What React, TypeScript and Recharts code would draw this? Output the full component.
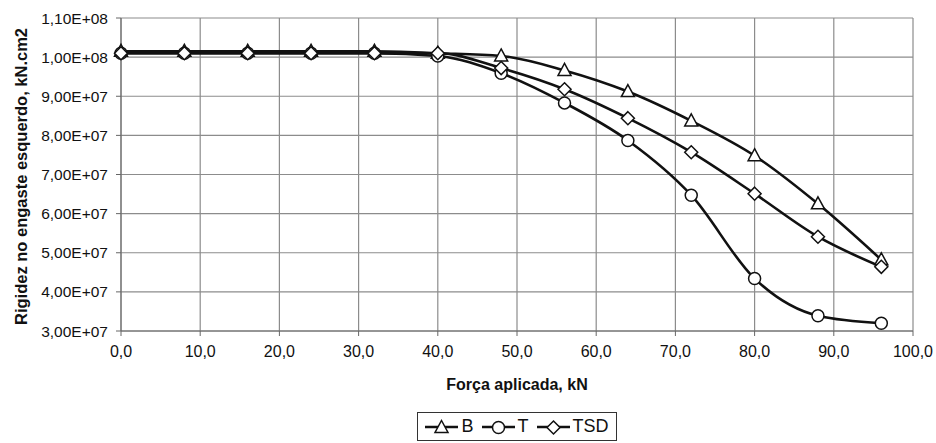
import { LineChart, Line, XAxis, YAxis, CartesianGrid, Legend, Label } from 'recharts';

const forca = [0, 8, 16, 24, 32, 40, 48, 56, 64, 72, 80, 88, 96];
const rigidezB = [1.015e8, 1.015e8, 1.015e8, 1.015e8, 1.015e8, 1.01e8, 1.003e8, 9.66e7, 9.12e7, 8.37e7, 7.48e7, 6.25e7, 4.82e7];
const rigidezT = [1.01e8, 1.01e8, 1.01e8, 1.01e8, 1.01e8, 1.003e8, 9.59e7, 8.83e7, 7.87e7, 6.47e7, 4.34e7, 3.39e7, 3.2e7];
const rigidezTSD = [1.01e8, 1.01e8, 1.01e8, 1.01e8, 1.01e8, 1.01e8, 9.72e7, 9.18e7, 8.44e7, 7.57e7, 6.51e7, 5.41e7, 4.64e7];

const xTicks = [0, 10, 20, 30, 40, 50, 60, 70, 80, 90, 100];
const yTicks = [3e7, 4e7, 5e7, 6e7, 7e7, 8e7, 9e7, 1e8, 1.1e8];

const data = forca.map((f, i) => ({ f, B: rigidezB[i], T: rigidezT[i], TSD: rigidezTSD[i] }));

const FONT = '"Liberation Sans", Arial, sans-serif';
const GRID = '#8c8c8c';
const INK = '#111';

// Excel-style "0,00E+00"
const sci = (v: number) => {
  const exp = Math.floor(Math.log10(v) + 1e-9);
  const m = v / Math.pow(10, exp);
  return `${m.toFixed(2).replace('.', ',')}E+${String(exp).padStart(2, '0')}`;
};
const dec = (v: number) => v.toFixed(1).replace('.', ',');

type Shape = 'tri' | 'circ' | 'diam';

const Marker = ({ x, y, shape }: { x: number; y: number; shape: Shape }) => {
  if (shape === 'circ') return <circle cx={x} cy={y} r={6} fill="#fff" stroke={INK} strokeWidth={1.5} />;
  if (shape === 'tri')
    return <path d={`M${x},${y - 7} L${x + 6.5},${y + 5} L${x - 6.5},${y + 5} Z`} fill="#fff" stroke={INK} strokeWidth={1.5} />;
  return <path d={`M${x},${y - 6.5} L${x + 6.5},${y} L${x},${y + 6.5} L${x - 6.5},${y} Z`} fill="#fff" stroke={INK} strokeWidth={1.5} />;
};

const dotFor = (shape: Shape) => (props: any) => {
  const { cx, cy, index } = props;
  if (cx == null || cy == null) return <g key={`${shape}-${index}`} />;
  return <Marker key={`${shape}-${index}`} x={cx} y={cy} shape={shape} />;
};

const legendItems: { name: string; shape: Shape }[] = [
  { name: 'B', shape: 'tri' },
  { name: 'T', shape: 'circ' },
  { name: 'TSD', shape: 'diam' },
];

const LegendBox = () => (
  <div style={{ display: 'flex', justifyContent: 'center' }}>
    <div
      style={{
        display: 'flex',
        alignItems: 'center',
        border: '1px solid #333',
        padding: '3px 7px',
        fontFamily: FONT,
        fontSize: 18,
        color: INK,
        background: '#fff',
      }}
    >
      {legendItems.map((it) => (
        <span key={it.name} style={{ display: 'flex', alignItems: 'center', marginRight: it.name === 'TSD' ? 0 : 8 }}>
          <svg width={33} height={20}>
            <line x1={0} y1={10} x2={33} y2={10} stroke={INK} strokeWidth={2.5} />
            <Marker x={16.5} y={10.5} shape={it.shape} />
          </svg>
          <span style={{ marginLeft: 3 }}>{it.name}</span>
        </span>
      ))}
    </div>
  </div>
);

const YTitle = (props: any) => {
  const vb = props.viewBox || { x: 0, y: 18, width: 121, height: 314 };
  const cx = 21;
  const cy = vb.y + vb.height / 2 + 2;
  return (
    <text
      x={cx}
      y={cy}
      transform={`rotate(-90, ${cx}, ${cy})`}
      textAnchor="middle"
      dominantBaseline="central"
      fontFamily={FONT}
      fontSize={16.5}
      fontWeight="bold"
      fill={INK}
    >
      Rigidez no engaste esquerdo, kN.cm2
    </text>
  );
};

export default function App() {
  return (
    <div style={{ position: 'absolute', left: 0, top: 0, width: 936, height: 443, background: '#fff' }}>
      <LineChart width={936} height={443} data={data} margin={{ top: 18, right: 23, bottom: 23, left: 0 }}>
        <CartesianGrid stroke={GRID} strokeWidth={1.2} />
        <XAxis
          dataKey="f"
          type="number"
          domain={[0, 100]}
          ticks={xTicks}
          tickFormatter={dec}
          height={60}
          stroke="#666"
          tickSize={5}
          tickMargin={10}
          tick={{ fill: INK, fontSize: 16, fontFamily: FONT }}
        >
          <Label value="Força aplicada, kN" position="insideBottom" offset={1} fill={INK} fontSize={16} fontWeight="bold" fontFamily={FONT} />
        </XAxis>
        <YAxis
          type="number"
          domain={[3e7, 1.1e8]}
          ticks={yTicks}
          tickFormatter={sci}
          width={121}
          stroke="#666"
          tickSize={5}
          tickMargin={8}
          interval={0}
          tick={{ fill: INK, fontSize: 15.5, fontFamily: FONT }}
        >
          <Label content={<YTitle />} />
        </YAxis>
        <Legend verticalAlign="bottom" content={<LegendBox />} wrapperStyle={{ left: 121, width: 792, bottom: 2 }} />
        <Line type="monotone" dataKey="B" stroke={INK} strokeWidth={2.6} dot={dotFor('tri')} isAnimationActive={false} />
        <Line type="monotone" dataKey="T" stroke={INK} strokeWidth={2.6} dot={dotFor('circ')} isAnimationActive={false} />
        <Line type="monotone" dataKey="TSD" stroke={INK} strokeWidth={2.6} dot={dotFor('diam')} isAnimationActive={false} />
      </LineChart>
    </div>
  );
}
